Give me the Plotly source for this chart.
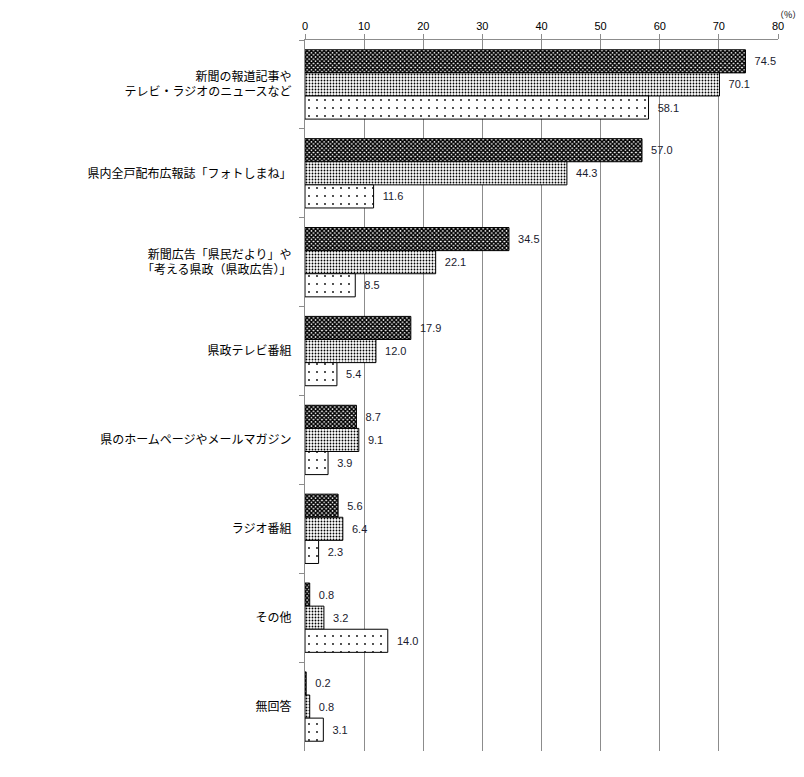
import plotly.graph_objects as go

categories = [
    "新聞の報道記事や<br>テレビ・ラジオのニュースなど",
    "県内全戸配布広報誌「フォトしまね」",
    "新聞広告「県民だより」や<br>「考える県政（県政広告）」",
    "県政テレビ番組",
    "県のホームページやメールマガジン",
    "ラジオ番組",
    "その他",
    "無回答",
]
series_a = [74.5, 57.0, 34.5, 17.9, 8.7, 5.6, 0.8, 0.2]
series_b = [70.1, 44.3, 22.1, 12.0, 9.1, 6.4, 3.2, 0.8]
series_c = [58.1, 11.6, 8.5, 5.4, 3.9, 2.3, 14.0, 3.1]
x_ticks = [0, 10, 20, 30, 40, 50, 60, 70, 80]

font_family = "Noto Sans CJK JP, DejaVu Sans, sans-serif"

patterns = [
    dict(shape="x", fgcolor="#000000", bgcolor="#ffffff", size=3, solidity=0.75, fillmode="replace"),
    dict(shape=".", fgcolor="#000000", bgcolor="#ffffff", size=3, solidity=0.3, fillmode="replace"),
    dict(shape=".", fgcolor="#000000", bgcolor="#ffffff", size=8, solidity=0.04, fillmode="replace"),
]

fig = go.Figure()
for vals, pat, name in zip([series_a, series_b, series_c], patterns, ["A", "B", "C"]):
    fig.add_trace(go.Bar(
        y=categories, x=vals, orientation="h", name=name,
        marker=dict(color="#ffffff", pattern=pat, line=dict(color="#000000", width=1)),
        text=[f"{v:.1f}" for v in vals], texttemplate="  %{text}", textposition="outside",
        textfont=dict(family="Liberation Sans, Arial, sans-serif", size=11, color="#1a1a2e"),
        cliponaxis=False,
    ))

fig.update_layout(
    width=796, height=769,
    margin=dict(l=297, r=26, t=32, b=26),
    barmode="group", bargap=0.22, bargroupgap=0,
    showlegend=False,
    plot_bgcolor="#ffffff", paper_bgcolor="#ffffff",
    font=dict(family=font_family, size=12, color="#000000"),
    xaxis=dict(
        side="top", range=[0, 80], tickvals=x_ticks,
        showgrid=True, gridcolor="#8c8c8c", gridwidth=1,
        ticks="outside", ticklen=5, tickcolor="#8c8c8c",
        showline=True, linecolor="#8c8c8c", linewidth=1,
        tickfont=dict(family="Liberation Sans, Arial, sans-serif", size=11, color="#000000"),
        zeroline=False, fixedrange=True,
    ),
    yaxis=dict(
        autorange="reversed", type="category",
        ticks="outside", ticklen=5, tickcolor="#8c8c8c", tickson="boundaries",
        showline=True, linecolor="#8c8c8c", linewidth=1,
        showgrid=False, ticklabelstandoff=10,
        tickfont=dict(family=font_family, size=12, color="#000000"),
    ),
    annotations=[dict(
        text="（%）", xref="paper", yref="paper", x=1.0, y=1.0, yshift=18, xshift=10,
        xanchor="center", yanchor="bottom", showarrow=False, borderpad=0,
        font=dict(family=font_family, size=9, color="#000000"),
    )],
)

fig.write_html("out.html")
